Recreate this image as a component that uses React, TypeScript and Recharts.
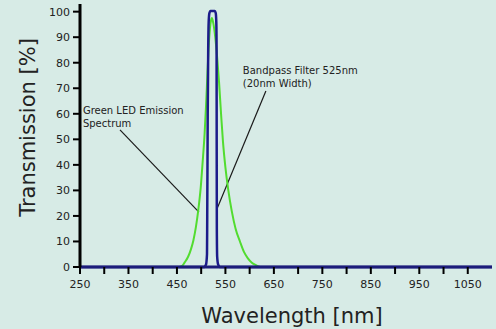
import React from "react";
import { LineChart, Line, XAxis, YAxis, ReferenceLine, ReferenceDot } from "recharts";

const greenWavelength = [455, 461, 466, 473, 479, 484, 489, 494, 499, 503, 507, 510, 513, 516, 519, 522, 525, 529, 533, 537, 541, 545, 550, 556, 563, 571, 580, 588, 596, 604, 612, 621];
const greenValue = [0, 0.5, 1.8, 4, 7, 10.5, 15.5, 22.3, 31, 41, 52, 63, 76, 88, 95, 97.5, 95.5, 90, 82, 72, 60, 49, 39, 30, 22, 15, 10, 6, 3.5, 1.8, 0.8, 0];

const blueWavelength = [250, 506, 510, 512, 512.5, 513.5, 514.5, 515.5, 517, 519, 528, 530, 531.2, 531.8, 532, 532.3, 533, 535, 539, 1100];
const blueValue = [0, 0, 1, 5, 20, 60, 85, 96, 99.5, 100.3, 100.3, 99.5, 96, 85, 50, 15, 4, 1, 0, 0];

const xTicks = [250, 300, 350, 400, 450, 500, 550, 600, 650, 700, 750, 800, 850, 900, 950, 1000, 1050];
const xLabelled = [250, 350, 450, 550, 650, 750, 850, 950, 1050];
const yTicks = [0, 10, 20, 30, 40, 50, 60, 70, 80, 90, 100];

const xTitle = "Wavelength [nm]";
const yTitle = "Transmission [%]";

const greenLabel = ["Green LED Emission", "Spectrum"];
const greenLabelAt = { x: 256, y: 60 };
const greenLeader = [{ x: 332.5, y: 53.7 }, { x: 495.4, y: 21.5 }];

const blueLabel = ["Bandpass Filter 525nm", "(20nm Width)"];
const blueLabelAt = { x: 586, y: 75.5 };
const blueLeader = [{ x: 633.5, y: 68.9 }, { x: 532.5, y: 22.7 }];

const greenData = greenWavelength.map((w, i) => ({ w, v: greenValue[i] }));
const blueData = blueWavelength.map((w, i) => ({ w, v: blueValue[i] }));

const FONT = "DejaVu Sans";

const XTick = (props: any) => {
  const { x, y, payload } = props;
  if (!xLabelled.includes(payload.value)) return null;
  return (
    <text x={x} y={y + 12} textAnchor="middle" fontFamily={FONT} fontSize={11} fill="#222">
      {payload.value}
    </text>
  );
};

const YTick = (props: any) => {
  const { x, y, payload } = props;
  return (
    <text x={x - 1} y={y + 4} textAnchor="end" fontFamily={FONT} fontSize={11} fill="#222">
      {payload.value}
    </text>
  );
};

const multiLine = (lines: string[]) => (props: any) => (
  <text x={props.cx} y={props.cy} fontFamily={FONT} fontSize={10} fill="#222">
    {lines.map((l, i) => (
      <tspan key={i} x={props.cx} dy={i === 0 ? 0 : 13}>
        {l}
      </tspan>
    ))}
  </text>
);

const XTitle = (props: any) => {
  const vb = props.viewBox;
  const cx = vb.x + vb.width / 2 + 6;
  const by = vb.y + 56;
  return (
    <text x={cx} y={by} textAnchor="middle" fontFamily={FONT} fontSize={21} fill="#222">
      {xTitle}
    </text>
  );
};

const YTitle = (props: any) => {
  const vb = props.viewBox;
  const bx = 35;
  const cy = vb.y + vb.height / 2 - 8;
  return (
    <text x={bx} y={cy} transform={`rotate(-90 ${bx} ${cy})`} textAnchor="middle" fontFamily={FONT} fontSize={21} fill="#222">
      {yTitle}
    </text>
  );
};

export default function App() {
  return (
    <div style={{ position: "absolute", left: 0, top: 0, width: 496, height: 329, background: "#d7ebe6" }}>
      <LineChart width={496} height={329} margin={{ top: 4, right: 4, left: 0, bottom: 0 }}>
        <XAxis
          type="number"
          dataKey="w"
          domain={[250, 1100]}
          ticks={xTicks}
          interval={0}
          height={62}
          tick={<XTick />}
          tickSize={7}
          axisLine={{ stroke: "#1c1c7a", strokeWidth: 3 }}
          tickLine={{ stroke: "#000", strokeWidth: 2 }}
          label={<XTitle />}
        />
        <YAxis
          type="number"
          dataKey="v"
          domain={[0, 103]}
          ticks={yTicks}
          interval={0}
          width={80}
          tick={<YTick />}
          tickSize={7}
          axisLine={{ stroke: "#000", strokeWidth: 3 }}
          tickLine={{ stroke: "#000", strokeWidth: 2 }}
          label={<YTitle />}
        />
        <ReferenceLine segment={greenLeader} stroke="#1a1a1a" strokeWidth={1.2} ifOverflow="visible" />
        <ReferenceLine segment={blueLeader} stroke="#1a1a1a" strokeWidth={1.2} ifOverflow="visible" />
        <ReferenceDot x={greenLabelAt.x} y={greenLabelAt.y} r={0} shape={multiLine(greenLabel)} ifOverflow="visible" />
        <ReferenceDot x={blueLabelAt.x} y={blueLabelAt.y} r={0} shape={multiLine(blueLabel)} ifOverflow="visible" />
        <Line data={greenData} dataKey="v" type="monotone" stroke="#52dc30" strokeWidth={2} dot={false} isAnimationActive={false} />
        <Line data={blueData} dataKey="v" type="monotone" stroke="#1c1c8a" strokeWidth={2.5} dot={false} isAnimationActive={false} />
      </LineChart>
    </div>
  );
}
